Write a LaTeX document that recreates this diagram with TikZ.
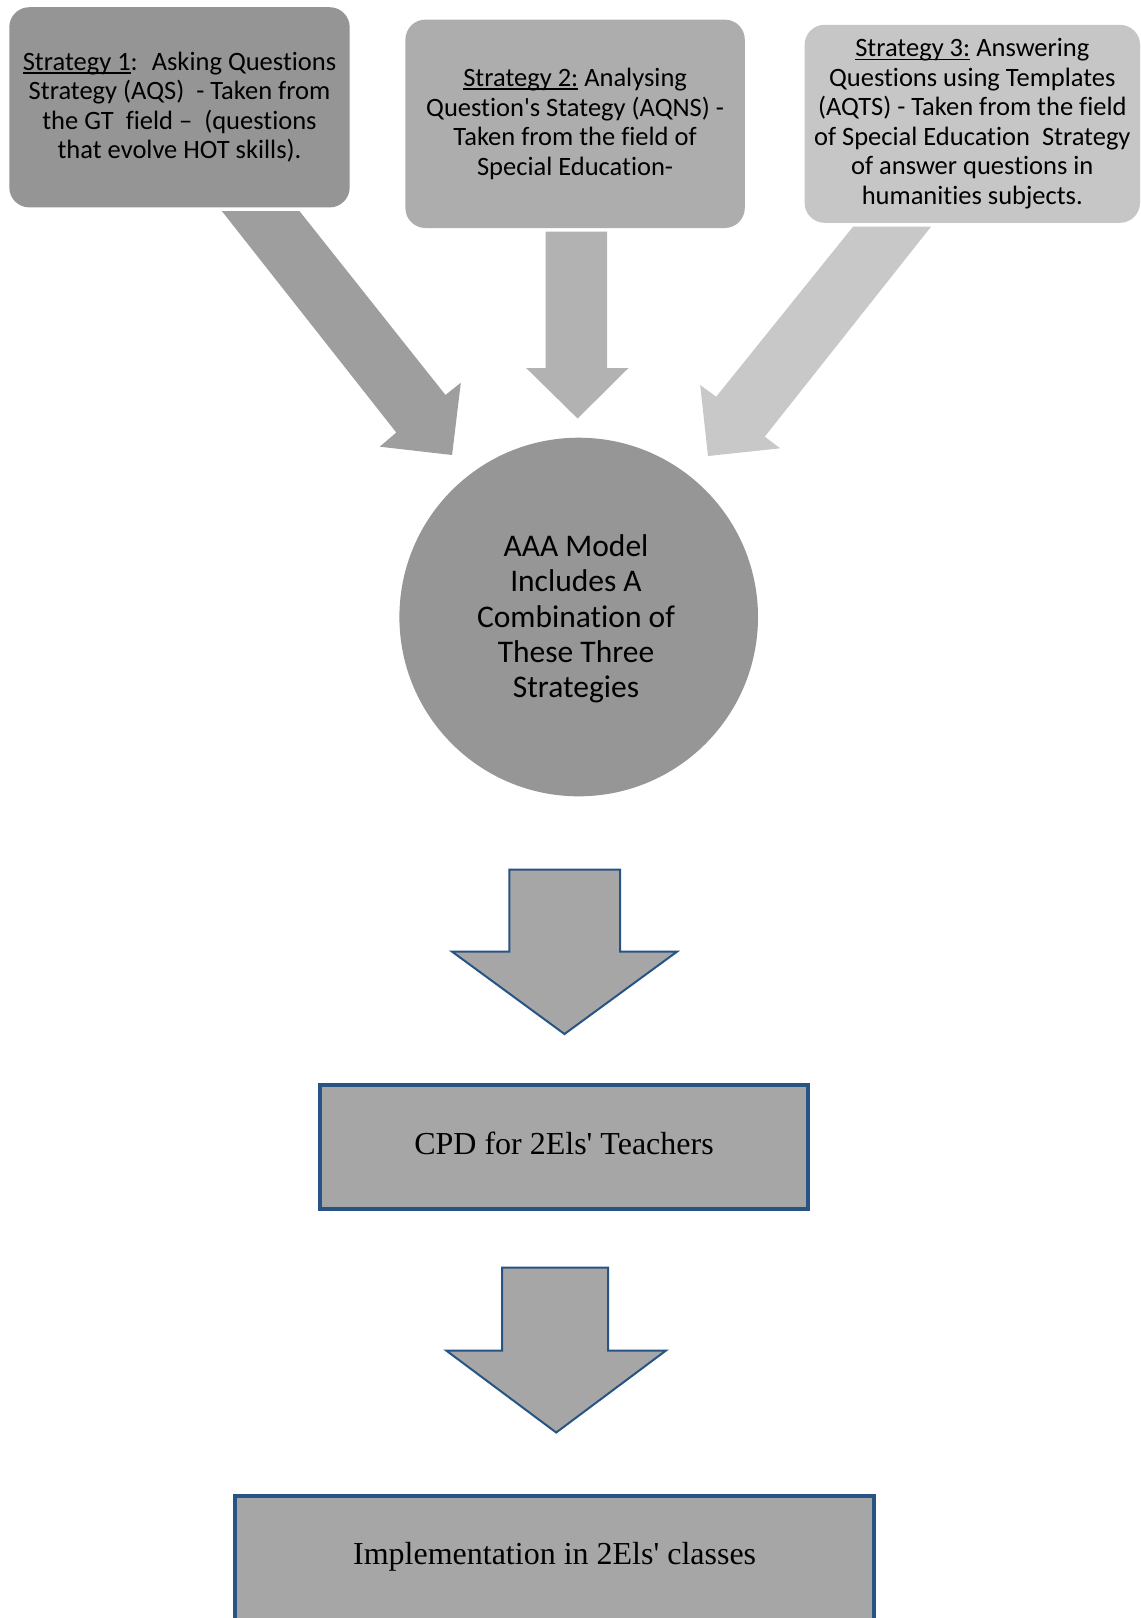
\documentclass[tikz,border=0pt]{standalone}
\usepackage{fontspec}
\setmainfont{Carlito}[Ligatures={NoCommon}]
\newfontfamily\serifface{Liberation Serif}
\newcommand\ulx[1]{\setbox0\hbox{#1}\rlap{\rule[-3.2pt]{\wd0}{1.4pt}}\box0\relax}
\definecolor{boxA}{HTML}{959595}
\definecolor{boxB}{HTML}{ADADAD}
\definecolor{boxC}{HTML}{C6C6C6}
\definecolor{arrA}{HTML}{9E9E9E}
\definecolor{arrB}{HTML}{B2B2B2}
\definecolor{arrC}{HTML}{C8C8C8}
\definecolor{circfill}{HTML}{969696}
\definecolor{flowfill}{HTML}{A6A6A6}
\definecolor{flowblue}{HTML}{285485}
\begin{document}
\begin{tikzpicture}[x=1pt,y=-1pt,
  stratbox/.style={rounded corners=20pt, inner sep=0pt, align=center,
    font=\fontsize{26.5}{29.5}\selectfont},
  flowarrow/.style={line width=2pt, draw=flowblue, fill=flowfill, line join=miter},
  flowbox/.style={line width=3.5pt, draw=flowblue, fill=flowfill, inner sep=0pt,
    font=\serifface\fontsize{32}{38}\selectfont}]
\useasboundingbox (0,0) rectangle (1141,1618);
\clip (0,0) rectangle (1141,1618);
\fill[white] (0,0) rectangle (1141,1618);

% top strategy boxes
\node[stratbox, fill=boxA, minimum width=340.4pt, minimum height=200.2pt] (s1) at (179.5,107.3)
  {\ulx{Strategy 1}:~ Asking Questions\\Strategy (AQS)~ - Taken from\\the GT~ field --~ (questions\\that evolve HOT skills).};
\node[stratbox, fill=boxB, minimum width=339.4pt, minimum height=208.4pt] (s2) at (575.1,123.8)
  {\ulx{Strategy 2:} Analysing\\Question\textquotesingle s Stategy (AQNS) -\\Taken from the field of\\Special Education-};
\node[stratbox, fill=boxC, minimum width=335.4pt, minimum height=198pt] (s3) at (972.3,123.8)
  {\ulx{Strategy 3:} Answering\\Questions using Templates\\(AQTS) - Taken from the field\\of Special Education~ Strategy\\of answer questions in\\humanities subjects.};

% central circle
\node[circle, fill=circfill, minimum size=358.6pt, inner sep=0pt] (aaa) at (578.7,617) {};
\node[align=center, inner sep=0pt, font=\fontsize{31.5}{35.3}\selectfont] (aaatext)
  at (576,619) {AAA Model\\Includes A\\Combination of\\These Three\\Strategies};

% block arrows from the strategies to the circle
\fill[arrA] (221.8,211) -- (299.4,211) -- (445.5,395) -- (460.8,382.7) -- (452.1,455)
  -- (379.8,446.7) -- (396.3,432.5) -- cycle;
\fill[arrB] (545.6,231.7) -- (607.2,231.7) -- (607.2,368) -- (628.5,368) -- (577.6,418.5)
  -- (526.2,368) -- (545.6,368) -- cycle;
\fill[arrC] (853,226.7) -- (931,226.7) -- (764.7,436.7) -- (780.2,448.3) -- (708,456)
  -- (700.2,385) -- (716.2,396.7) -- cycle;

% flow arrows and boxes
\draw[flowarrow] (509.3,869.6) -- (620,869.6) -- (620,951.5) -- (677.2,951.5) -- (564.5,1034)
  -- (451.9,951.5) -- (509.3,951.5) -- cycle;
\node[flowbox, minimum width=488pt, minimum height=124pt, text height=69pt, text depth=55pt] (cpd)
  at (564,1147) {CPD for 2Els\textquotesingle\ Teachers};
\draw[flowarrow] (502,1267.7) -- (608,1267.7) -- (608,1350.5) -- (666,1350.5) -- (556.2,1432.5)
  -- (446.2,1350.5) -- (502,1350.5) -- cycle;
\node[flowbox, anchor=north, minimum width=638.8pt, text height=69pt, text depth=100pt] (impl)
  at (554.6,1494) {Implementation in 2Els\textquotesingle\ classes};
\end{tikzpicture}
\end{document}
